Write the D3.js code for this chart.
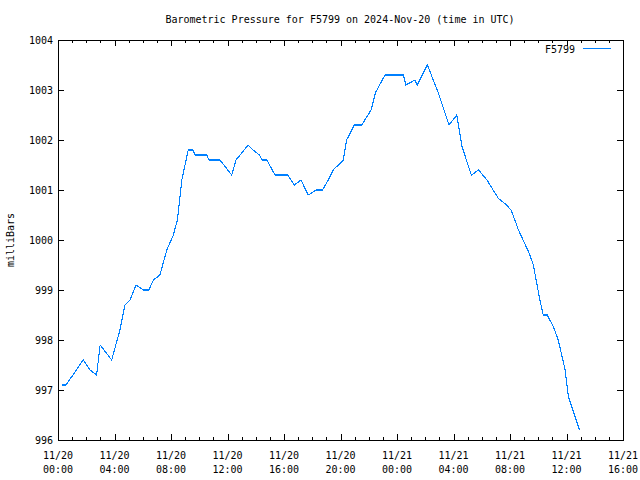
<!DOCTYPE html>
<html><head><meta charset="utf-8">
<script src="https://cdn.jsdelivr.net/npm/d3@7"></script>
<style>body{margin:0;background:#fff}svg{display:block}text{font-family:"DejaVu Sans Mono",monospace;font-size:10px;fill:#000}</style>
</head><body>
<script>
const title = "Barometric Pressure for F5799 on 2024-Nov-20 (time in UTC)";
const seriesName = "F5799";
const yLabel = "milliBars";
const times = ["2024-11-20T00:18","2024-11-20T00:34","2024-11-20T01:47","2024-11-20T02:16","2024-11-20T02:44","2024-11-20T02:59","2024-11-20T03:48","2024-11-20T04:23","2024-11-20T04:44","2024-11-20T05:06","2024-11-20T05:31","2024-11-20T06:02","2024-11-20T06:26","2024-11-20T06:45","2024-11-20T07:13","2024-11-20T07:42","2024-11-20T08:10","2024-11-20T08:27","2024-11-20T08:46","2024-11-20T09:13","2024-11-20T09:32","2024-11-20T09:43","2024-11-20T10:32","2024-11-20T10:41","2024-11-20T11:28","2024-11-20T12:18","2024-11-20T12:36","2024-11-20T13:28","2024-11-20T13:49","2024-11-20T14:15","2024-11-20T14:28","2024-11-20T14:47","2024-11-20T15:22","2024-11-20T16:16","2024-11-20T16:44","2024-11-20T17:12","2024-11-20T17:43","2024-11-20T18:16","2024-11-20T18:44","2024-11-20T19:08","2024-11-20T19:29","2024-11-20T20:12","2024-11-20T20:26","2024-11-20T20:59","2024-11-20T21:30","2024-11-20T22:10","2024-11-20T22:29","2024-11-20T23:09","2024-11-21T00:27","2024-11-21T00:38","2024-11-21T01:16","2024-11-21T01:26","2024-11-21T02:09","2024-11-21T02:51","2024-11-21T03:41","2024-11-21T04:14","2024-11-21T04:36","2024-11-21T05:16","2024-11-21T05:47","2024-11-21T06:22","2024-11-21T07:11","2024-11-21T07:40","2024-11-21T08:05","2024-11-21T08:36","2024-11-21T09:22","2024-11-21T09:39","2024-11-21T10:07","2024-11-21T10:21","2024-11-21T10:38","2024-11-21T11:04","2024-11-21T11:25","2024-11-21T11:53","2024-11-21T12:08","2024-11-21T12:55"];
const pressure = [997.1,997.1,997.6,997.4,997.3,997.9,997.6,998.2,998.7,998.8,999.1,999.0,999.0,999.2,999.3,999.8,1000.1,1000.4,1001.2,1001.8,1001.8,1001.7,1001.7,1001.6,1001.6,1001.3,1001.6,1001.9,1001.8,1001.7,1001.6,1001.6,1001.3,1001.3,1001.1,1001.2,1000.9,1001.0,1001.0,1001.2,1001.4,1001.6,1002.0,1002.3,1002.3,1002.6,1002.95,1003.3,1003.3,1003.1,1003.2,1003.1,1003.5,1003.0,1002.3,1002.5,1001.87,1001.3,1001.4,1001.2,1000.83,1000.72,1000.6,1000.2,999.73,999.5,998.8,998.5,998.5,998.27,998.0,997.43,996.87,996.2];
const yTicks = [996,997,998,999,1000,1001,1002,1003,1004];
const xMajorTicks = ["2024-11-20T00:00","2024-11-20T04:00","2024-11-20T08:00","2024-11-20T12:00","2024-11-20T16:00","2024-11-20T20:00","2024-11-21T00:00","2024-11-21T04:00","2024-11-21T08:00","2024-11-21T12:00","2024-11-21T16:00"];

const parse = s => new Date(s + ":00Z");
const data = times.map((t,i)=>({t:parse(t), v:pressure[i]}));
const W=640,H=480, L=58, R=623, T=40, B=440;
const svg = d3.select("body").append("svg").attr("width",W).attr("height",H);
const x = d3.scaleUtc().domain([parse(xMajorTicks[0]), parse(xMajorTicks[xMajorTicks.length-1])]).range([L,R]);
const y = d3.scaleLinear().domain([996,1004]).range([B,T]);
const majors = xMajorTicks.map(parse);
const minors = d3.utcHour.range(majors[0], majors[majors.length-1]).filter(d=>d.getUTCHours()%4!==0);
const fmt1 = d3.utcFormat("%m/%d"), fmt2 = d3.utcFormat("%H:%M");

const g = svg.append("g").attr("shape-rendering","crispEdges");
g.append("g").attr("transform",`translate(0,${B})`).call(d3.axisTop(x).tickValues(majors).tickSize(6).tickFormat(""));
g.append("g").attr("transform",`translate(0,${B})`).call(d3.axisTop(x).tickValues(minors).tickSize(3).tickFormat(""));
g.append("g").attr("transform",`translate(0,${T})`).call(d3.axisBottom(x).tickValues(majors).tickSize(6).tickFormat(""));
g.append("g").attr("transform",`translate(0,${T})`).call(d3.axisBottom(x).tickValues(minors).tickSize(3).tickFormat(""));
g.append("g").attr("transform",`translate(${L},0)`).call(d3.axisRight(y).tickValues(yTicks).tickSize(6).tickFormat(""));
g.append("g").attr("transform",`translate(${R},0)`).call(d3.axisLeft(y).tickValues(yTicks).tickSize(6).tickFormat(""));
g.selectAll(".domain").remove();
g.selectAll("line").attr("stroke","#000");
g.append("rect").attr("x",L+0.5).attr("y",T+0.5).attr("width",R-L).attr("height",B-T).attr("fill","none").attr("stroke","#000");

svg.append("g").selectAll("text").data(yTicks).join("text")
  .attr("x",L-5).attr("y",d=>y(d)+4).attr("text-anchor","end").text(d=>d);
const xl = svg.append("g").selectAll("text").data(majors).join("text")
  .attr("x",d=>x(d)).attr("text-anchor","middle");
xl.append("tspan").attr("x",d=>x(d)).attr("y",B+19).text(d=>fmt1(d));
xl.append("tspan").attr("x",d=>x(d)).attr("y",B+33).text(d=>fmt2(d));
svg.append("text").attr("x",340).attr("y",23).attr("text-anchor","middle").text(title);
svg.append("text").attr("transform","translate(14,240) rotate(-90)").attr("text-anchor","middle").text(yLabel);

svg.append("path").datum(data).attr("fill","none").attr("stroke","#0080ff").attr("stroke-width",1.1)
  .attr("shape-rendering","crispEdges")
  .attr("d", d3.line().x(d=>x(d.t)).y(d=>y(d.v)));

svg.append("text").attr("x",575).attr("y",53).attr("text-anchor","end").text(seriesName);
svg.append("line").attr("x1",583).attr("x2",611).attr("y1",48.5).attr("y2",48.5).attr("stroke","#0080ff").attr("shape-rendering","crispEdges");
</script>
</body></html>
